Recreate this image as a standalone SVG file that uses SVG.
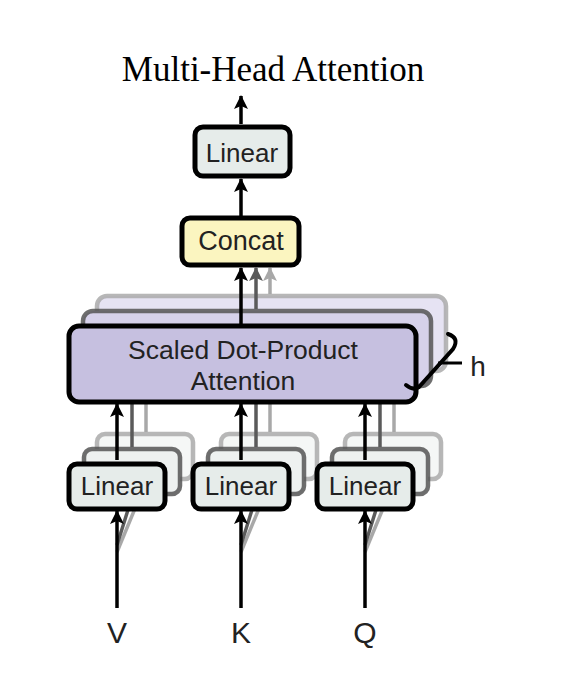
<svg xmlns="http://www.w3.org/2000/svg" width="566" height="676" viewBox="0 0 566 676">
<defs>
<marker id="ah" markerUnits="userSpaceOnUse" markerWidth="16" markerHeight="14" refX="13" refY="7" orient="auto"><path d="M0,0 L14,7 L0,14 L3,7 z" fill="#000"/></marker>
<marker id="ahd" markerUnits="userSpaceOnUse" markerWidth="16" markerHeight="14" refX="13" refY="7" orient="auto"><path d="M0,0 L14,7 L0,14 L3,7 z" fill="#5a5a5a"/></marker>
<marker id="ahl" markerUnits="userSpaceOnUse" markerWidth="16" markerHeight="14" refX="13" refY="7" orient="auto"><path d="M0,0 L14,7 L0,14 L3,7 z" fill="#a8a8a8"/></marker>
</defs>
<style>
.lbl{font-family:"Liberation Sans",Arial,sans-serif;fill:#222;text-anchor:middle}
.box{stroke:#000;stroke-width:5}
.b2{stroke:#555;stroke-width:4.5;stroke-opacity:.85}
.b3{stroke:#aaa;stroke-width:4.5;stroke-opacity:.85}
.lin{fill:#e6ecea}
.lin2{fill:#eef1f0}
.lin3{fill:#f5f7f6}
.att{fill:#c6c0e0}
.att2{fill:#d6d1ea}
.att3{fill:#e6e3f3}
.ln{stroke:#000;stroke-width:3.5;fill:none}
.ld{stroke:#5a5a5a;stroke-width:3.5;fill:none}
.ll{stroke:#a8a8a8;stroke-width:3.5;fill:none}
</style>
<rect width="566" height="676" fill="#fff"/>
<text x="273" y="81" font-family="Liberation Serif,Times New Roman,serif" font-size="35" text-anchor="middle" fill="#000">Multi-Head Attention</text>

<g id="back-layers">
<rect x="97" y="296" width="349" height="75" rx="10" class="att3 b3"/>
<rect x="83" y="311" width="348" height="75" rx="10" class="att2 b2"/>
<rect x="97" y="434" width="96" height="45" rx="8" class="lin3 b3"/>
<rect x="84" y="449" width="96" height="45" rx="8" class="lin2 b2"/>
<rect x="221" y="434" width="96" height="45" rx="8" class="lin3 b3"/>
<rect x="208" y="449" width="96" height="45" rx="8" class="lin2 b2"/>
<rect x="345" y="434" width="96" height="45" rx="8" class="lin3 b3"/>
<rect x="332" y="449" width="96" height="45" rx="8" class="lin2 b2"/>
</g>

<g id="connectors">
<line x1="146" y1="432" x2="146" y2="404" class="ll"/>
<line x1="132" y1="447" x2="132" y2="404" class="ld"/>
<line x1="270" y1="432" x2="270" y2="404" class="ll"/>
<line x1="256" y1="447" x2="256" y2="404" class="ld"/>
<line x1="394" y1="432" x2="394" y2="404" class="ll"/>
<line x1="380" y1="447" x2="380" y2="404" class="ld"/>
<line x1="117" y1="552" x2="146" y2="482" class="ll"/>
<line x1="117" y1="545" x2="132" y2="497" class="ld"/>
<line x1="241" y1="552" x2="270" y2="482" class="ll"/>
<line x1="241" y1="545" x2="256" y2="497" class="ld"/>
<line x1="365" y1="552" x2="394" y2="482" class="ll"/>
<line x1="365" y1="545" x2="380" y2="497" class="ld"/>
<line x1="117" y1="460" x2="117" y2="404" class="ln" marker-end="url(#ah)"/>
<line x1="241" y1="460" x2="241" y2="404" class="ln" marker-end="url(#ah)"/>
<line x1="365" y1="460" x2="365" y2="404" class="ln" marker-end="url(#ah)"/>
<line x1="117" y1="608" x2="117" y2="511" class="ln" marker-end="url(#ah)"/>
<line x1="241" y1="608" x2="241" y2="511" class="ln" marker-end="url(#ah)"/>
<line x1="365" y1="608" x2="365" y2="511" class="ln" marker-end="url(#ah)"/>
<line x1="270" y1="294" x2="270" y2="268" class="ll" marker-end="url(#ahl)"/>
<line x1="256" y1="309" x2="256" y2="268" class="ld" marker-end="url(#ahd)"/>
<line x1="241" y1="324" x2="241" y2="268" class="ln" marker-end="url(#ah)"/>
<line x1="241" y1="216" x2="241" y2="179" class="ln" marker-end="url(#ah)"/>
<line x1="241" y1="124" x2="241" y2="96" class="ln" marker-end="url(#ah)"/>
</g>

<g id="node-linear-out">
<rect x="195" y="127" width="95" height="49" rx="8" class="lin box"/>
<text x="242" y="162" class="lbl" font-size="26">Linear</text>
</g>
<g id="node-concat">
<rect x="182" y="218" width="117" height="47" rx="8" fill="#fbf5c0" class="box"/>
<text x="241" y="250" class="lbl" font-size="27">Concat</text>
</g>
<g id="node-attention">
<rect x="69" y="326" width="347" height="76" rx="10" class="att box"/>
<text x="243" y="359" class="lbl" font-size="26.5">Scaled Dot-Product</text>
<text x="243" y="390" class="lbl" font-size="26.5">Attention</text>
</g>
<g id="node-h">
<path d="M448 334 Q460 338 453 349 L419 387 Q413 391 406 385" stroke="#000" stroke-width="4" fill="none" stroke-linecap="round"/>
<line x1="438" y1="363" x2="462" y2="363" stroke="#000" stroke-width="3"/>
<text x="478" y="376" class="lbl" font-size="28">h</text>
</g>
<g id="node-linear-v">
<rect x="69" y="464" width="96" height="45" rx="8" class="lin box"/>
<text x="117" y="495" class="lbl" font-size="26">Linear</text>
</g>
<g id="node-linear-k">
<rect x="193" y="464" width="96" height="45" rx="8" class="lin box"/>
<text x="241" y="495" class="lbl" font-size="26">Linear</text>
</g>
<g id="node-linear-q">
<rect x="317" y="464" width="96" height="45" rx="8" class="lin box"/>
<text x="365" y="495" class="lbl" font-size="26">Linear</text>
</g>
<g id="inputs">
<text x="117" y="643" class="lbl" font-size="30">V</text>
<text x="241" y="643" class="lbl" font-size="30">K</text>
<text x="365" y="643" class="lbl" font-size="30">Q</text>
</g>
</svg>
